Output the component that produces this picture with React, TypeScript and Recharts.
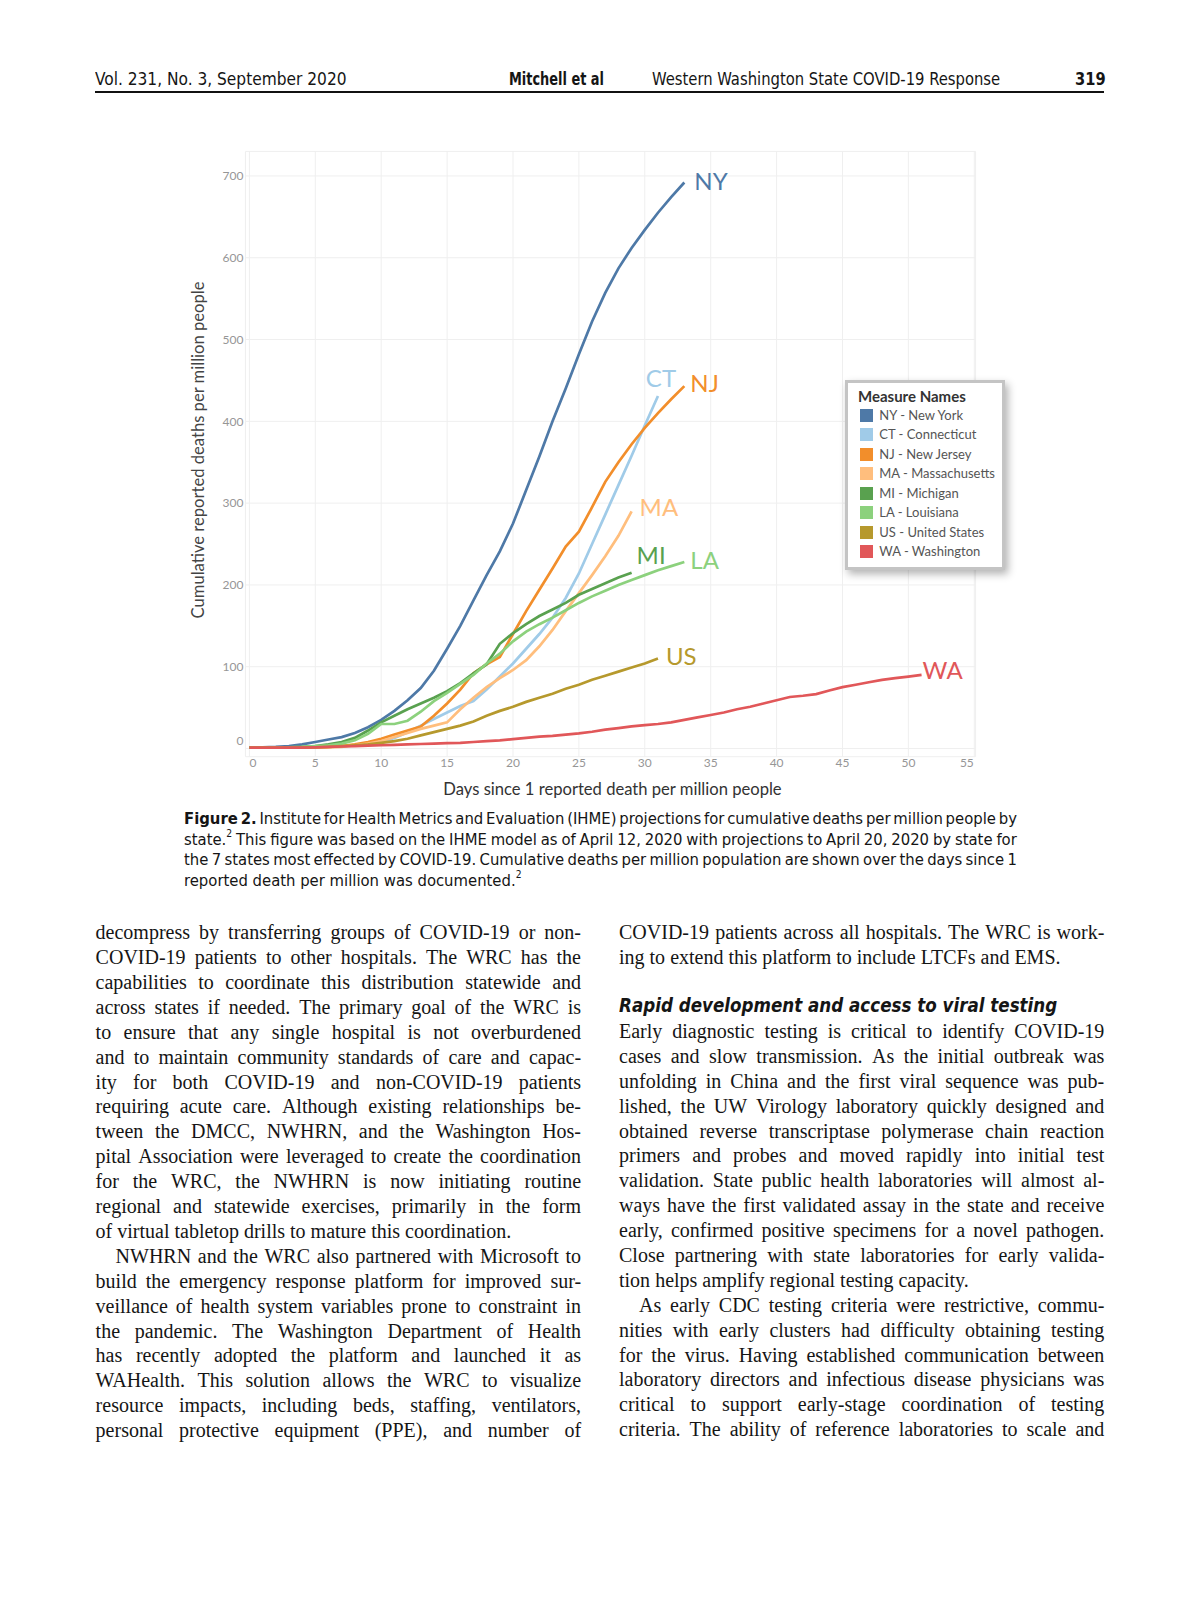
import React from 'react'
import { LineChart, Line, XAxis, YAxis, CartesianGrid } from 'recharts'

if (typeof document !== 'undefined') document.body.style.margin = '0'

// cumulative deaths per million, one value per day since 1 death/million (day 0 = first entry)
const NY = [1, 1.5, 2, 3, 5, 8, 11, 14, 19, 26, 35, 46, 59, 74, 95, 122, 150, 181, 212, 241, 275, 316, 357, 400, 440, 482, 522, 557, 587, 612, 634, 655, 674, 692]
const CT = [1, 1, 1, 1, 1.5, 2, 2.5, 3, 4, 5, 7, 13, 20, 28, 36, 44, 52, 58, 72, 88, 104, 122, 140, 160, 184, 214, 250, 286, 322, 358, 395, 431]
const NJ = [1, 1, 1, 1, 1, 1.5, 2, 3, 5, 8, 12, 17, 22, 27, 40, 55, 72, 92, 103, 112, 140, 168, 194, 220, 247, 265, 295, 326, 350, 372, 392, 410, 427, 443]
const MA = [1, 1, 1, 1, 1, 1, 1.5, 2, 4, 6, 9, 14, 19, 24, 28, 32, 48, 62, 75, 86, 96, 108, 125, 145, 168, 190, 212, 235, 260, 290]
const MI = [1, 1, 1, 1.5, 2, 3, 5, 8, 13, 22, 32, 40, 48, 55, 62, 70, 80, 92, 103, 128, 141, 152, 162, 170, 178, 188, 195, 202, 209, 215]
const LA = [1, 1, 1, 1.5, 2, 3, 4, 6, 10, 18, 30, 30, 34, 45, 58, 68, 79, 90, 104, 116, 131, 143, 152, 160, 169, 178, 186, 193, 200, 206, 212, 218, 223, 228]
const US = [1, 1, 1, 1, 1, 1.5, 2, 3, 4, 5, 7, 9, 12, 16, 20, 24, 28, 33, 40, 46, 51, 57, 62, 67, 73, 78, 84, 89, 94, 99, 104, 110]
const WA = [1, 1, 1, 1, 1, 1.5, 2, 2.5, 3, 3.5, 4, 4.5, 5, 5.5, 6, 6.5, 7, 8, 9, 10, 11.5, 13, 14.5, 15.5, 17, 18.5, 20.5, 23, 25, 27, 28.5, 30, 32, 35, 38, 41, 44, 48, 51, 55, 59, 63, 64.5, 66.5, 71, 75, 78, 81, 84, 86, 88, 90]

const X_TICKS = [0, 5, 10, 15, 20, 25, 30, 35, 40, 45, 50, 55]
const Y_TICKS = [0, 100, 200, 300, 400, 500, 600, 700]

const SERIES = [
  { key: 'NY', name: 'NY - New York', color: '#4e79a7', values: NY },
  { key: 'CT', name: 'CT - Connecticut', color: '#a0cbe8', values: CT },
  { key: 'NJ', name: 'NJ - New Jersey', color: '#f28e2b', values: NJ },
  { key: 'MA', name: 'MA - Massachusetts', color: '#ffbe7d', values: MA },
  { key: 'MI', name: 'MI - Michigan', color: '#59a14f', values: MI },
  { key: 'LA', name: 'LA - Louisiana', color: '#8cd17d', values: LA },
  { key: 'US', name: 'US - United States', color: '#b6992d', values: US },
  { key: 'WA', name: 'WA - Washington', color: '#e15759', values: WA },
]

// where the end-of-line state label sits, relative to the last point
const LABEL_OFFSETS: Record<string, { dx: number; dy: number; anchor?: string }> = {
  NY: { dx: 10, dy: 7.6 },
  CT: { dx: 3, dy: -9.4, anchor: 'middle' },
  NJ: { dx: 6, dy: 5.6 },
  MA: { dx: 8, dy: 4.6 },
  MI: { dx: 5, dy: -8.4 },
  LA: { dx: 6, dy: 7.1 },
  US: { dx: 8, dy: 6.6 },
  WA: { dx: 1, dy: 4 },
}

const HEADER = {
  left: 'Vol. 231, No. 3, September 2020',
  authors: 'Mitchell et al',
  title: 'Western Washington State COVID-19 Response',
  page: '319',
}

const CAPTION = [
  'Figure 2. Institute for Health Metrics and Evaluation (IHME) projections for cumulative deaths per million people by',
  'state.^2 This figure was based on the IHME model as of April 12, 2020 with projections to April 20, 2020 by state for',
  'the 7 states most effected by COVID-19. Cumulative deaths per million population are shown over the days since 1',
  'reported death per million was documented.^2',
]

const LEFT_COL = [
  'decompress by transferring groups of COVID-19 or non-',
  'COVID-19 patients to other hospitals. The WRC has the',
  'capabilities to coordinate this distribution statewide and',
  'across states if needed. The primary goal of the WRC is',
  'to ensure that any single hospital is not overburdened',
  'and to maintain community standards of care and capac-',
  'ity for both COVID-19 and non-COVID-19 patients',
  'requiring acute care. Although existing relationships be-',
  'tween the DMCC, NWHRN, and the Washington Hos-',
  'pital Association were leveraged to create the coordination',
  'for the WRC, the NWHRN is now initiating routine',
  'regional and statewide exercises, primarily in the form',
  '<of virtual tabletop drills to mature this coordination.',
  '>NWHRN and the WRC also partnered with Microsoft to',
  'build the emergency response platform for improved sur-',
  'veillance of health system variables prone to constraint in',
  'the pandemic. The Washington Department of Health',
  'has recently adopted the platform and launched it as',
  'WAHealth. This solution allows the WRC to visualize',
  'resource impacts, including beds, staffing, ventilators,',
  'personal protective equipment (PPE), and number of',
]

const RIGHT_TOP = [
  'COVID-19 patients across all hospitals. The WRC is work-',
  '<ing to extend this platform to include LTCFs and EMS.',
]
const RIGHT_HEADING = 'Rapid development and access to viral testing'
const RIGHT_COL = [
  'Early diagnostic testing is critical to identify COVID-19',
  'cases and slow transmission. As the initial outbreak was',
  'unfolding in China and the first viral sequence was pub-',
  'lished, the UW Virology laboratory quickly designed and',
  'obtained reverse transcriptase polymerase chain reaction',
  'primers and probes and moved rapidly into initial test',
  'validation. State public health laboratories will almost al-',
  'ways have the first validated assay in the state and receive',
  'early, confirmed positive specimens for a novel pathogen.',
  'Close partnering with state laboratories for early valida-',
  '<tion helps amplify regional testing capacity.',
  '>As early CDC testing criteria were restrictive, commu-',
  'nities with early clusters had difficulty obtaining testing',
  'for the virus. Having established communication between',
  'laboratory directors and infectious disease physicians was',
  'critical to support early-stage coordination of testing',
  'criteria. The ability of reference laboratories to scale and',
]

const chartData = Array.from({ length: Math.max(...SERIES.map((s) => s.values.length)) }, (_, day) => {
  const row: Record<string, number | null> = { day }
  SERIES.forEach((s) => {
    row[s.key] = day < s.values.length ? s.values[day] : null
  })
  return row
})

const SERIF = '"Liberation Serif", "Times New Roman", serif'
const NARROW = '"Liberation Sans Narrow", "DejaVu Sans Condensed", "Arial Narrow", sans-serif'
const CHART_FONT = 'Lato, "Open Sans", sans-serif'

function Word({ w, bold }: { w: string; bold?: boolean }) {
  const [base, sup] = w.split('^')
  return (
    <span style={{ whiteSpace: 'nowrap', fontWeight: bold ? 700 : undefined }}>
      {base}
      {sup && <sup style={{ fontSize: '0.62em', lineHeight: 0, position: 'relative', top: '-0.1em' }}>{sup}</sup>}
    </span>
  )
}

// one typeset line; justified unless it starts with "<" (paragraph end); ">" = indented first line
function TextLine({ text, width, height, boldWords = 0 }: { text: string; width: number; height: number; boldWords?: number }) {
  let t = text
  let last = false
  let indent = 0
  if (t.startsWith('<')) { last = true; t = t.slice(1) }
  if (t.startsWith('>')) { indent = 20; t = t.slice(1) }
  const words = t.split(' ')
  if (last) {
    return (
      <div style={{ height, lineHeight: height + 'px', whiteSpace: 'nowrap', paddingLeft: indent }}>
        {words.map((w, i) => (
          <React.Fragment key={i}>
            <Word w={w} bold={i < boldWords} />
            {i < words.length - 1 ? ' ' : ''}
          </React.Fragment>
        ))}
      </div>
    )
  }
  return (
    <div style={{ height, lineHeight: height + 'px', width, display: 'flex', justifyContent: 'space-between', paddingLeft: indent, boxSizing: 'border-box' }}>
      {words.map((w, i) => <Word key={i} w={w} bold={i < boldWords} />)}
    </div>
  )
}

function YTick(props: any) {
  const { x, y, payload } = props
  const dy = payload.value === 0 ? -8 : 0
  return (
    <text x={x} y={y + dy + 4.3} textAnchor="end" fontSize={12} fill="#969696" fontFamily={CHART_FONT}>
      {payload.value}
    </text>
  )
}

function XTick(props: any) {
  const { x, y, payload } = props
  const dx = payload.value === 0 ? 3.6 : payload.value === 55 ? -7.4 : 0
  return (
    <text x={x + dx} y={y + 8.6} textAnchor="middle" fontSize={12} fill="#969696" fontFamily={CHART_FONT}>
      {payload.value}
    </text>
  )
}

function makeEndLabel(s: (typeof SERIES)[number]) {
  return (props: any) => {
    const { x, y, index } = props
    if (index !== s.values.length - 1 || x == null || y == null) return <g />
    const o = LABEL_OFFSETS[s.key]
    return (
      <text x={x + o.dx} y={y + o.dy} fill={s.color} fontSize={24} fontFamily={CHART_FONT} textAnchor={o.anchor ?? 'start'}>
        {s.key}
      </text>
    )
  }
}

const squeeze = (k: number): React.CSSProperties => ({ transform: `scaleX(${k})`, transformOrigin: 'left center', whiteSpace: 'nowrap' })

export default function App() {
  const bodyLine = 24.9
  return (
    <div style={{ position: 'relative', width: 1200, height: 1613, background: '#fff', overflow: 'hidden', color: '#151515' }}>
      {/* running head */}
      <div style={{ position: 'absolute', top: 68, left: 0, width: 1200, fontFamily: NARROW, fontSize: 17.5, lineHeight: '22px' }}>
        <span style={{ position: 'absolute', left: 94.6, ...squeeze(0.98) }}>{HEADER.left}</span>
        <span style={{ position: 'absolute', left: 509, fontWeight: 700, ...squeeze(0.82) }}>{HEADER.authors}</span>
        <span style={{ position: 'absolute', left: 652, ...squeeze(0.94) }}>{HEADER.title}</span>
        <span style={{ position: 'absolute', left: 1074.6, fontWeight: 700, ...squeeze(0.93) }}>{HEADER.page}</span>
      </div>
      <div style={{ position: 'absolute', top: 90.5, left: 95, width: 1009, height: 2, background: '#111' }} />

      {/* chart */}
      <div style={{ position: 'absolute', left: 0, top: 0 }}>
        <LineChart width={1200} height={800} data={chartData} margin={{ top: 151.4, right: 224.4, bottom: 13.3, left: 185.45 }}>
          <CartesianGrid stroke="#efefef" strokeWidth={1} />
          <XAxis
            dataKey="day"
            type="number"
            domain={[-0.3, 55.1]}
            allowDataOverflow
            ticks={X_TICKS}
            axisLine={false}
            tickLine={false}
            tickSize={0}
            tickMargin={2}
            height={30}
            tick={<XTick />}
            interval={0}
          />
          <YAxis
            type="number"
            domain={[-10, 730]}
            allowDataOverflow
            ticks={Y_TICKS}
            axisLine={false}
            tickLine={false}
            tickSize={0}
            tickMargin={2}
            width={60}
            tick={<YTick />}
            interval={0}
          />
          {SERIES.map((s) => (
            <Line
              key={s.key}
              type="linear"
              dataKey={s.key}
              stroke={s.color}
              strokeWidth={2.7}
              dot={false}
              isAnimationActive={false}
              label={makeEndLabel(s)}
            />
          ))}
        </LineChart>
      </div>

      {/* axis titles */}
      <div style={{ position: 'absolute', left: 198, top: 449.5, transform: 'translate(-50%, -50%) rotate(-90deg)', whiteSpace: 'nowrap', fontFamily: CHART_FONT, fontSize: 16.6, color: '#444' }}>
        Cumulative reported deaths per million people
      </div>
      <div style={{ position: 'absolute', left: 612.5, top: 789, transform: 'translate(-50%, -50%)', whiteSpace: 'nowrap', fontFamily: CHART_FONT, fontSize: 16.6, color: '#333' }}>
        Days since 1 reported death per million people
      </div>

      {/* legend */}
      <div style={{ position: 'absolute', left: 845, top: 380, width: 160, height: 190, boxSizing: 'border-box', border: '3px solid #c4c4c4', background: '#fff', boxShadow: '3px 4px 8px rgba(0,0,0,0.3)', fontFamily: CHART_FONT }}>
        <div style={{ position: 'absolute', left: 10, top: 3.7, fontSize: 15, fontWeight: 700, color: '#333', lineHeight: '18px', whiteSpace: 'nowrap' }}>Measure Names</div>
        {SERIES.map((s, i) => (
          <div key={s.key} style={{ position: 'absolute', left: 12, top: 32 + i * 19.5 - 6.5, height: 13, display: 'flex', alignItems: 'center', whiteSpace: 'nowrap' }}>
            <div style={{ width: 13, height: 13, background: s.color }} />
            <span style={{ marginLeft: 6.3, fontSize: 13, color: '#555', lineHeight: '13px' }}>{s.name}</span>
          </div>
        ))}
      </div>

      {/* caption */}
      <div style={{ position: 'absolute', left: 184, top: 809.3, fontFamily: NARROW, fontSize: 16.5 }}>
        {CAPTION.map((l, i) => (
          <TextLine key={i} text={i === CAPTION.length - 1 ? '<' + l : l} width={833} height={20.5} boldWords={i === 0 ? 2 : 0} />
        ))}
      </div>

      {/* body text */}
      <div style={{ position: 'absolute', left: 95.6, top: 932.7 - bodyLine / 2, fontFamily: SERIF, fontSize: 20 }}>
        {LEFT_COL.map((l, i) => <TextLine key={i} text={l} width={485.5} height={bodyLine} />)}
      </div>
      <div style={{ position: 'absolute', left: 619, top: 932.7 - bodyLine / 2, fontFamily: SERIF, fontSize: 20 }}>
        {RIGHT_TOP.map((l, i) => <TextLine key={i} text={l} width={485.4} height={bodyLine} />)}
      </div>
      <div style={{ position: 'absolute', left: 619, top: 1004.6 - 12, fontFamily: NARROW, fontSize: 20, fontWeight: 700, fontStyle: 'italic', lineHeight: '24px', ...squeeze(0.93) }}>
        {RIGHT_HEADING}
      </div>
      <div style={{ position: 'absolute', left: 619, top: 1031.4 - bodyLine / 2, fontFamily: SERIF, fontSize: 20 }}>
        {RIGHT_COL.map((l, i) => <TextLine key={i} text={l} width={485.4} height={bodyLine} />)}
      </div>
    </div>
  )
}
